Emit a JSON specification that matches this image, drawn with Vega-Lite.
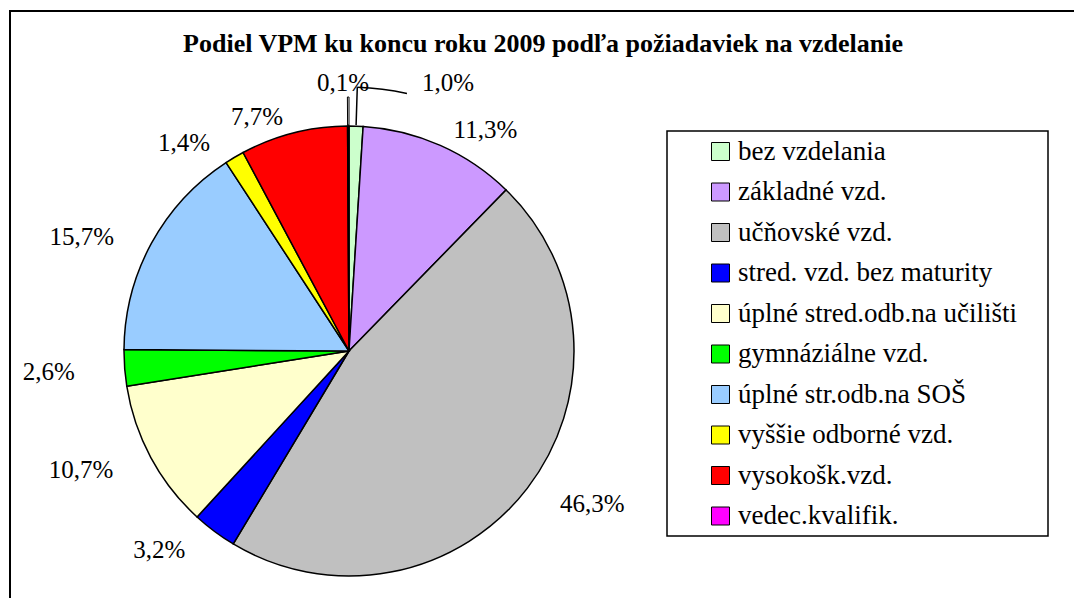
{
  "$schema": "https://vega.github.io/schema/vega-lite/v6.json",
  "width": 1066,
  "height": 589,
  "autosize": "none",
  "padding": {"left": 10, "top": 11, "right": 0, "bottom": 0},
  "background": "white",
  "view": {"stroke": "black", "strokeWidth": 2},
  "config": {
    "view": {"stroke": "black", "strokeWidth": 2},
    "style": {"view": {"stroke": "black", "strokeWidth": 2}},
    "font": "Liberation Serif"
  },
  "title": {
    "text": "Podiel VPM ku koncu roku 2009 podľa požiadaviek na vzdelanie",
    "fontSize": 26,
    "fontWeight": "bold",
    "font": "Liberation Serif",
    "color": "black",
    "anchor": "middle",
    "frame": "group",
    "offset": -67,
    "baseline": "alphabetic"
  },
  "data": {
    "values": [
      {"poradie": 1, "kategoria": "bez vzdelania", "podiel": 1.0, "popis": "1,0%"},
      {"poradie": 2, "kategoria": "základné vzd.", "podiel": 11.3, "popis": "11,3%"},
      {"poradie": 3, "kategoria": "učňovské vzd.", "podiel": 46.3, "popis": "46,3%"},
      {"poradie": 4, "kategoria": "stred. vzd. bez maturity", "podiel": 3.2, "popis": "3,2%"},
      {"poradie": 5, "kategoria": "úplné stred.odb.na učilišti", "podiel": 10.7, "popis": "10,7%"},
      {"poradie": 6, "kategoria": "gymnáziálne vzd.", "podiel": 2.6, "popis": "2,6%"},
      {"poradie": 7, "kategoria": "úplné str.odb.na SOŠ", "podiel": 15.7, "popis": "15,7%"},
      {"poradie": 8, "kategoria": "vyššie odborné vzd.", "podiel": 1.4, "popis": "1,4%"},
      {"poradie": 9, "kategoria": "vysokošk.vzd.", "podiel": 7.7, "popis": "7,7%"},
      {"poradie": 10, "kategoria": "vedec.kvalifik.", "podiel": 0.1, "popis": "0,1%"}
    ]
  },
  "transform": [
    {"stack": "podiel", "groupby": [], "sort": [{"field": "poradie", "order": "ascending"}], "as": ["z0", "z1"]}
  ],
  "layer": [
    {
      "mark": {"type": "arc", "outerRadius": 225, "stroke": "black", "strokeWidth": 1.5, "x": 339, "y": 340},
      "encoding": {
        "theta": {"field": "z0", "type": "quantitative", "scale": {"domain": [0, 100]}},
        "theta2": {"field": "z1"},
        "color": {
          "field": "kategoria",
          "type": "nominal",
          "sort": null,
          "scale": {
            "domain": ["bez vzdelania", "základné vzd.", "učňovské vzd.", "stred. vzd. bez maturity", "úplné stred.odb.na učilišti", "gymnáziálne vzd.", "úplné str.odb.na SOŠ", "vyššie odborné vzd.", "vysokošk.vzd.", "vedec.kvalifik."],
            "range": ["#CCFFCC", "#CC99FF", "#C0C0C0", "#0000FF", "#FFFFCC", "#00FF00", "#99CCFF", "#FFFF00", "#FF0000", "#FF00FF"]
          },
          "legend": {
            "title": ".",
            "titleOrient": "right",
            "titleColor": "white",
            "titleFontSize": 8,
            "titlePadding": 22,
            "orient": "none",
            "legendX": 657,
            "legendY": 120,
            "symbolType": "square",
            "symbolSize": 324,
            "symbolStrokeColor": "black",
            "symbolStrokeWidth": 1,
            "symbolOpacity": 1,
            "symbolOffset": 33,
            "labelFont": "Liberation Serif",
            "labelFontSize": 27,
            "labelColor": "black",
            "labelOffset": 4,
            "labelLimit": 500,
            "rowPadding": 12.5,
            "padding": 7,
            "strokeColor": "black",
            "fillColor": "white",
            "encode": {"legend": {"update": {"strokeWidth": {"value": 1.5}}}}
          }
        }
      }
    },
    {
      "transform": [{"filter": "datum.poradie != 1 && datum.poradie != 10"}],
      "mark": {
        "type": "text", "x": 339, "y": 340, "fontSize": 25, "font": "Liberation Serif", "color": "black", "align": "center", "baseline": "middle",
        "dx": {"expr": "277*sin((scale('theta', datum.z0) + scale('theta', datum.z1))/2) + 24*sin((scale('theta', datum.z0) + scale('theta', datum.z1))/2)/max(abs(sin((scale('theta', datum.z0) + scale('theta', datum.z1))/2)), 0.2)"},
        "dy": {"expr": "3 - 245*cos((scale('theta', datum.z0) + scale('theta', datum.z1))/2)"}
      },
      "encoding": {"text": {"field": "popis"}}
    },
    {
      "transform": [{"filter": "datum.poradie == 1 || datum.poradie == 10"}],
      "mark": {
        "type": "text", "x": 339, "y": 340, "fontSize": 25, "font": "Liberation Serif", "color": "black", "align": "center", "baseline": "middle",
        "dx": {"expr": "datum.poradie == 1 ? 99 : -6"},
        "dy": {"expr": "datum.poradie == 1 ? -268 : -268"}
      },
      "encoding": {"text": {"field": "popis"}}
    },
    {
      "transform": [{"filter": "datum.poradie == 10"}],
      "mark": {"type": "arc", "innerRadius": 226, "outerRadius": 254, "fill": null, "stroke": "black", "strokeWidth": 1, "x": 339, "y": 340},
      "encoding": {
        "theta": {"field": "z0", "type": "quantitative"},
        "theta2": {"field": "z1"}
      }
    },
    {
      "transform": [{"filter": "datum.poradie == 1"}],
      "mark": {
        "type": "arc", "innerRadius": 226, "outerRadius": 264, "fill": null, "stroke": "black", "strokeWidth": 1.5, "x": 339, "y": 340,
        "theta": {"expr": "(scale('theta', datum.z0) + scale('theta', datum.z1))/2"},
        "theta2": {"expr": "(scale('theta', datum.z0) + scale('theta', datum.z1))/2"}
      },
      "encoding": {}
    },
    {
      "transform": [{"filter": "datum.poradie == 1"}],
      "mark": {
        "type": "arc", "innerRadius": 264, "outerRadius": 264, "fill": null, "stroke": "black", "strokeWidth": 1.5, "x": 339, "y": 340,
        "theta": {"expr": "(scale('theta', datum.z0) + scale('theta', datum.z1))/2"},
        "theta2": {"expr": "(scale('theta', datum.z0) + scale('theta', datum.z1))/2 + 0.19"}
      },
      "encoding": {}
    }
  ]
}
